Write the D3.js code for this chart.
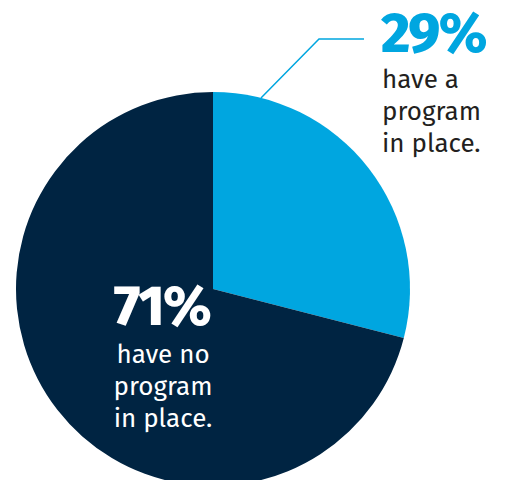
<!DOCTYPE html>
<html lang="en">
<head>
  <meta charset="UTF-8">
  <title>Program in place</title>
  <script src="https://d3js.org/d3.v7.min.js"></script>
  <style>
    body { margin: 0; background: #fff; }
    svg { display: block; }
  </style>
</head>
<body>
  <svg width="507" height="480"></svg>

  <script>
    const categories = ["have a program in place.", "have no program in place."];
    const values = [29, 71];
    const colors = ["#00a6e0", "#002442"];

    const svg = d3.select("svg");
    const cx = 213, cy = 289, r = 197;

    const pie = d3.pie().sort(null).value(d => d)(values);
    const arc = d3.arc().innerRadius(0).outerRadius(r);

    const g = svg.append("g").attr("transform", `translate(${cx},${cy})`);
    g.selectAll("path")
      .data(pie).enter().append("path")
      .attr("d", arc)
      .attr("fill", (d, i) => colors[i]);

    // leader line for the small slice
    const a = pie[0].startAngle + (pie[0].endAngle - pie[0].startAngle) * 0.135;
    const p0 = [cx + Math.sin(a) * r, cy - Math.cos(a) * r];
    svg.append("polyline")
      .attr("points", `${p0[0]},${p0[1]} 319,39 364,39`)
      .attr("fill", "none")
      .attr("stroke", colors[0])
      .attr("stroke-width", 1.5);

    const font = "'Fira Sans', 'Open Sans', sans-serif";

    // 29% label
    svg.append("text")
      .attr("x", 381).attr("y", 52)
      .attr("font-family", font).attr("font-weight", 800)
      .attr("font-size", 56).attr("letter-spacing", -1.5)
      .attr("fill", colors[0])
      .text(values[0] + "%");
    const lines1 = ["have a", "program", "in place."];
    svg.append("text")
      .attr("font-family", font).attr("font-size", 26).attr("fill", "#231f20")
      .selectAll("tspan").data(lines1).enter().append("tspan")
      .attr("x", 382).attr("y", (d, i) => 88 + i * 32)
      .text(d => d);

    // 71% label
    svg.append("text")
      .attr("x", 162).attr("y", 325)
      .attr("text-anchor", "middle")
      .attr("font-family", font).attr("font-weight", 800)
      .attr("font-size", 56).attr("letter-spacing", -1.5)
      .attr("fill", "#fff")
      .text(values[1] + "%");
    const lines2 = ["have no", "program", "in place."];
    svg.append("text")
      .attr("font-family", font).attr("font-size", 26).attr("fill", "#fff")
      .attr("text-anchor", "middle")
      .selectAll("tspan").data(lines2).enter().append("tspan")
      .attr("x", 163).attr("y", (d, i) => 363 + i * 32)
      .text(d => d);
  </script>
</body>
</html>
